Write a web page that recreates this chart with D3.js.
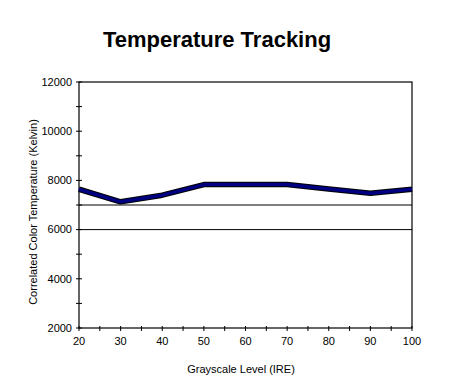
<!DOCTYPE html>
<html>
<head>
<meta charset="utf-8">
<script src="https://cdn.jsdelivr.net/npm/d3@7.9.0/dist/d3.min.js"></script>
<style>
  body { margin: 0; background: #fff; }
  svg text { font-family: "Liberation Sans", Arial, sans-serif; }
</style>
</head>
<body>
<svg id="chart" width="450" height="379"></svg>
<script>
// Data
const ireLevels = [20, 30, 40, 50, 60, 70, 80, 90, 100];
const kelvin = [7640, 7130, 7400, 7830, 7830, 7830, 7650, 7480, 7640];
const refLines = [6000, 7000];
const yTicks = [2000, 4000, 6000, 8000, 10000, 12000];
const xTicks = [20, 30, 40, 50, 60, 70, 80, 90, 100];

const svg = d3.select('#chart');
const margin = { top: 82, right: 38, bottom: 51, left: 79 };
const width = 450 - margin.left - margin.right;
const height = 379 - margin.top - margin.bottom;

const g = svg.append('g').attr('transform', `translate(${margin.left},${margin.top})`);

const x = d3.scaleLinear().domain([20, 100]).range([0, width]);
const y = d3.scaleLinear().domain([2000, 12000]).range([height, 0]);

// title
svg.append('text')
  .attr('x', 217).attr('y', 47)
  .attr('text-anchor', 'middle')
  .attr('font-size', 22).attr('font-weight', 'bold')
  .text('Temperature Tracking');

// frame
g.append('rect')
  .attr('width', width).attr('height', height)
  .attr('fill', 'none').attr('stroke', '#000').attr('stroke-width', 1.2);

// reference lines
g.selectAll('.ref').data(refLines).join('line')
  .attr('x1', 0).attr('x2', width)
  .attr('y1', d => y(d)).attr('y2', d => y(d))
  .attr('stroke', '#000').attr('stroke-width', 1);

// y axis: minor ticks crossing the axis, labels every 2000
const yMinor = d3.range(2000, 12001, 1000);
g.selectAll('.ytick').data(yMinor).join('line')
  .attr('x1', -3).attr('x2', 3)
  .attr('y1', d => y(d)).attr('y2', d => y(d))
  .attr('stroke', '#000');
g.selectAll('.ylab').data(yTicks).join('text')
  .attr('x', -7).attr('y', d => y(d))
  .attr('dy', '0.35em').attr('text-anchor', 'end')
  .attr('font-size', 11)
  .text(d => d);

// x axis: ticks every 5, labels every 10
const xMinor = d3.range(20, 101, 5);
g.selectAll('.xtick').data(xMinor).join('line')
  .attr('x1', d => x(d)).attr('x2', d => x(d))
  .attr('y1', height - 2).attr('y2', height + 3)
  .attr('stroke', '#000');
g.selectAll('.xlab').data(xTicks).join('text')
  .attr('x', d => x(d)).attr('y', height + 17)
  .attr('text-anchor', 'middle')
  .attr('font-size', 11)
  .text(d => d);

// axis titles
svg.append('text')
  .attr('x', 241).attr('y', 373)
  .attr('text-anchor', 'middle').attr('font-size', 11)
  .text('Grayscale Level (IRE)');
svg.append('text')
  .attr('transform', 'translate(37,212) rotate(-90)')
  .attr('text-anchor', 'middle').attr('font-size', 11)
  .text('Correlated Color Temperature (Kelvin)');

// series line: black edge with navy core
const line = d3.line().x((d, i) => x(ireLevels[i])).y(d => y(d));
g.append('path').datum(kelvin)
  .attr('d', line).attr('fill', 'none')
  .attr('stroke', '#000').attr('stroke-width', 5.5)
  .attr('stroke-linejoin', 'round');
g.append('path').datum(kelvin)
  .attr('d', line).attr('fill', 'none')
  .attr('stroke', '#000080').attr('stroke-width', 3.5)
  .attr('stroke-linejoin', 'round');
</script>
</body>
</html>
